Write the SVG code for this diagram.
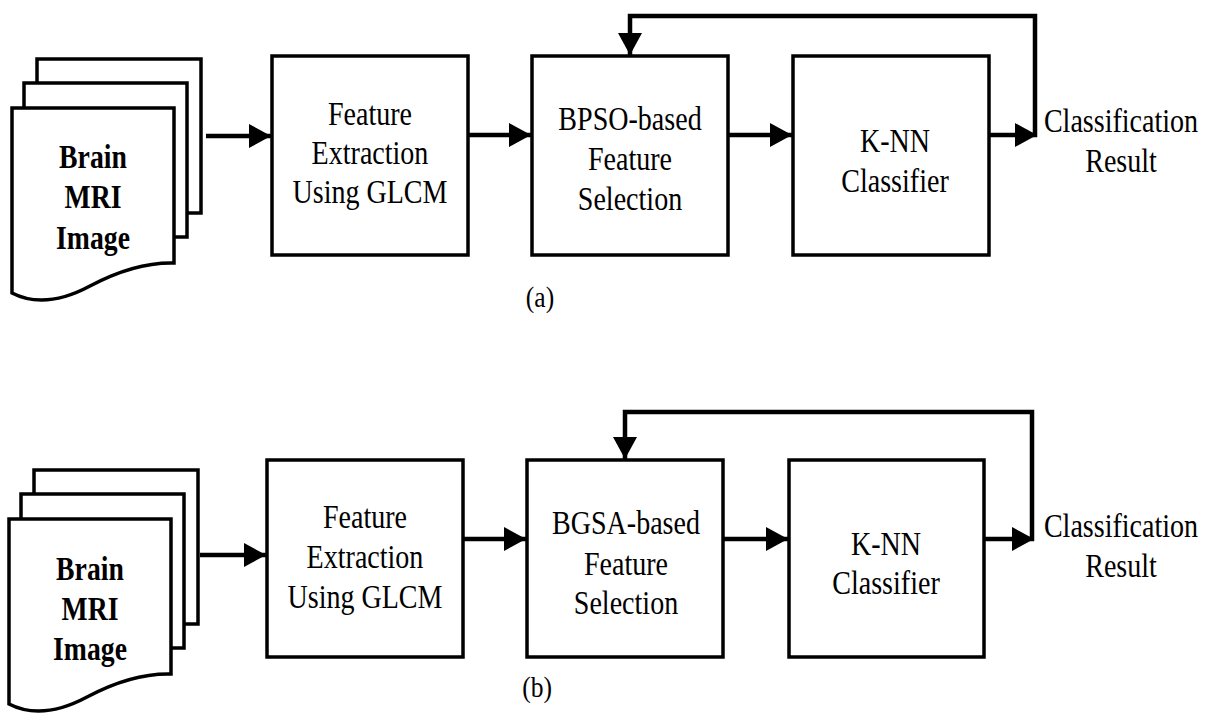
<svg xmlns="http://www.w3.org/2000/svg" width="1210" height="718" viewBox="0 0 1210 718">
<style>
.box{fill:#fff;stroke:#000;stroke-width:3.5}
.page{fill:#fff;stroke:#000;stroke-width:3.5;stroke-linejoin:miter}
.con{fill:none;stroke:#000;stroke-width:4.5}
.t{font-family:'Liberation Serif','Times New Roman',serif;font-size:33px;fill:#000;text-anchor:middle}
.b{font-weight:bold}
.cap{font-size:30px}
</style>
<defs>
<marker id="ah" viewBox="0 0 22 24" refX="22" refY="12" markerWidth="22" markerHeight="24" markerUnits="userSpaceOnUse" orient="auto">
<path d="M0,0 L22,12 L0,24 Z" fill="#000"/>
</marker>
</defs>
<rect width="1210" height="718" fill="#fff"/>

<g id="doc-a">
<rect class="page" x="37" y="59" width="164" height="154"/>
<rect class="page" x="24" y="83" width="163" height="154"/>
<path class="page" d="M12,108 H174 V263 Q135,262 90,286 Q45,310 12,293 Z"/>
<text class="t b" transform="translate(93,0) scale(0.84 1)"><tspan x="0" y="168">Brain</tspan><tspan x="0" y="208">MRI</tspan><tspan x="0" y="249">Image</tspan></text>
</g>
<g id="fe-a">
<rect class="box" x="272" y="56" width="196" height="199"/>
<text class="t" transform="translate(370,0) scale(0.85 1)"><tspan x="0" y="125">Feature</tspan><tspan x="0" y="164">Extraction</tspan><tspan x="0" y="203">Using GLCM</tspan></text>
</g>
<g id="fs-a">
<rect class="box" x="532" y="56" width="196" height="199"/>
<text class="t" transform="translate(630,0) scale(0.85 1)"><tspan x="0" y="130">BPSO-based</tspan><tspan x="0" y="170">Feature</tspan><tspan x="0" y="210">Selection</tspan></text>
</g>
<g id="knn-a">
<rect class="box" x="793" y="56" width="196" height="199"/>
<text class="t" transform="translate(895,0) scale(0.85 1)"><tspan x="0" y="152">K-NN</tspan><tspan x="0" y="192">Classifier</tspan></text>
</g>
<g id="res-a">
<text class="t" transform="translate(1121,0) scale(0.85 1)"><tspan x="0" y="132">Classification</tspan><tspan x="0" y="172">Result</tspan></text>
</g>
<text class="t cap" transform="translate(540,307) scale(0.85 1)">(a)</text>

<g id="doc-b">
<rect class="page" x="34" y="470" width="164" height="154"/>
<rect class="page" x="21" y="494" width="163" height="154"/>
<path class="page" d="M9,519 H171 V674 Q132,673 87,697 Q42,721 9,704 Z"/>
<text class="t b" transform="translate(90,0) scale(0.84 1)"><tspan x="0" y="580">Brain</tspan><tspan x="0" y="620">MRI</tspan><tspan x="0" y="660">Image</tspan></text>
</g>
<g id="fe-b">
<rect class="box" x="267" y="460" width="196" height="197"/>
<text class="t" transform="translate(365,0) scale(0.85 1)"><tspan x="0" y="528">Feature</tspan><tspan x="0" y="568">Extraction</tspan><tspan x="0" y="608">Using GLCM</tspan></text>
</g>
<g id="fs-b">
<rect class="box" x="527" y="460" width="196" height="197"/>
<text class="t" transform="translate(626,0) scale(0.85 1)"><tspan x="0" y="534">BGSA-based</tspan><tspan x="0" y="575">Feature</tspan><tspan x="0" y="614">Selection</tspan></text>
</g>
<g id="knn-b">
<rect class="box" x="789" y="460" width="195" height="197"/>
<text class="t" transform="translate(886,0) scale(0.85 1)"><tspan x="0" y="555">K-NN</tspan><tspan x="0" y="594">Classifier</tspan></text>
</g>
<g id="res-b">
<text class="t" transform="translate(1121,0) scale(0.85 1)"><tspan x="0" y="537">Classification</tspan><tspan x="0" y="577">Result</tspan></text>
</g>
<text class="t cap" transform="translate(537,697) scale(0.85 1)">(b)</text>

<g id="connectors">
<path class="con" d="M206,136 H271" marker-end="url(#ah)"/>
<path class="con" d="M468,135 H531" marker-end="url(#ah)"/>
<path class="con" d="M728,135 H792" marker-end="url(#ah)"/>
<path class="con" d="M989,135 H1037" marker-end="url(#ah)"/>
<path class="con" d="M1035,137 V16 H630 V55" marker-end="url(#ah)"/>

<path class="con" d="M200,555 H266" marker-end="url(#ah)"/>
<path class="con" d="M463,539 H526" marker-end="url(#ah)"/>
<path class="con" d="M723,539 H788" marker-end="url(#ah)"/>
<path class="con" d="M984,539 H1034" marker-end="url(#ah)"/>
<path class="con" d="M1032,541 V412 H625 V459" marker-end="url(#ah)"/>
</g>
</svg>
